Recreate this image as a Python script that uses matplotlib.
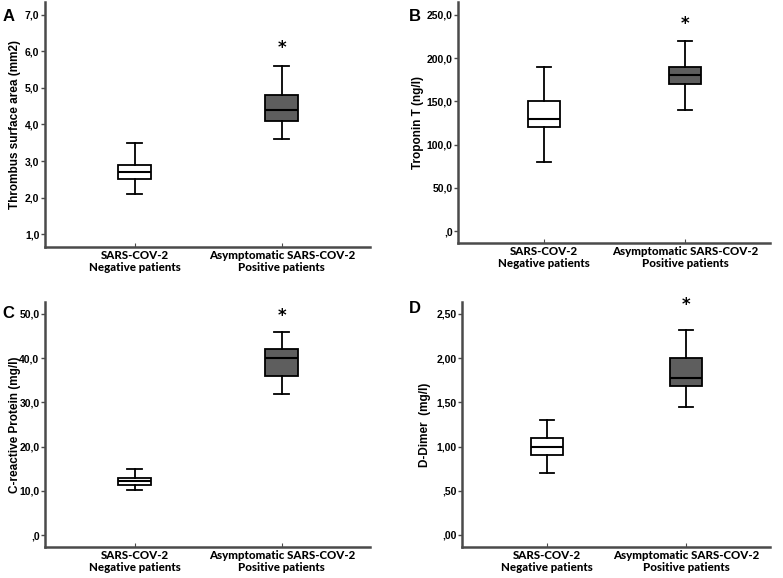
import matplotlib
matplotlib.use("Agg")
import matplotlib.pyplot as plt

# ---- data ----
groups = ["SARS-COV-2\nNegative patients", "Asymptomatic SARS-COV-2\nPositive patients"]

# per panel: [negative, positive] as (whislo, q1, median, q3, whishi)
thrombus = [(2.1, 2.5, 2.7, 2.9, 3.5), (3.6, 4.1, 4.4, 4.8, 5.6)]
troponin = [(80, 120, 130, 150, 190), (140, 170, 180, 190, 220)]
crp = [(10.3, 11.3, 12.3, 13.0, 15.0), (32, 36, 40, 42, 46)]
ddimer = [(0.70, 0.90, 1.00, 1.10, 1.30), (1.45, 1.68, 1.78, 2.00, 2.32)]

star_y = [6.1, 240, 49.5, 2.6]

ticks_a = [1, 2, 3, 4, 5, 6, 7]
ticklabels_a = ["1,0", "2,0", "3,0", "4,0", "5,0", "6,0", "7,0"]
ticks_b = [0, 50, 100, 150, 200, 250]
ticklabels_b = [",0", "50,0", "100,0", "150,0", "200,0", "250,0"]
ticks_c = [0, 10, 20, 30, 40, 50]
ticklabels_c = [",0", "10,0", "20,0", "30,0", "40,0", "50,0"]
ticks_d = [0, 0.5, 1.0, 1.5, 2.0, 2.5]
ticklabels_d = [",00", ",50", "1,00", "1,50", "2,00", "2,50"]

ylabels = ["Thrombus surface area (mm2)", "Troponin T (ng/l)",
           "C-reactive Protein (mg/l)", "D-Dimer  (mg/l)"]
letters = ["A", "B", "C", "D"]

SPINE = "#4a4a4a"
FILLS = ["white", "#5e5e5e"]


def to_stats(rows):
    keys = ("whislo", "q1", "med", "q3", "whishi")
    return [dict(zip(keys, r), fliers=[]) for r in rows]


def panel(fig, rect, rows, ylim, ticks, ticklabels, ylabel, star, letter,
          letter_xy, ylabel_x):
    ax = fig.add_axes(rect)
    bp = ax.bxp(to_stats(rows), positions=[1, 2], widths=0.225,
                patch_artist=True, showfliers=False,
                boxprops=dict(edgecolor="black", linewidth=1.3),
                medianprops=dict(color="black", linewidth=1.5),
                whiskerprops=dict(color="black", linewidth=1.3),
                capprops=dict(color="black", linewidth=1.3),
                capwidths=0.1)
    for patch, c in zip(bp["boxes"], FILLS):
        patch.set_facecolor(c)
    ax.set_xlim(0.39, 2.6)
    ax.set_ylim(*ylim)
    ax.set_yticks(ticks)
    ax.set_yticklabels(ticklabels, fontsize=7.5, fontweight="bold",
                       family="Liberation Sans")
    ax.set_xticks([1, 2])
    ax.set_xticklabels(groups, fontsize=8.3, fontweight=900, family="Lato",
                       linespacing=1.15)
    ax.tick_params(axis="y", length=3, width=1, color=SPINE, pad=1)
    ax.tick_params(axis="x", direction="in", length=3, width=0.8,
                   color=SPINE, pad=2)
    for s in ("top", "right"):
        ax.spines[s].set_visible(False)
    for s in ("left", "bottom"):
        ax.spines[s].set_color(SPINE)
        ax.spines[s].set_linewidth(1.8)
    ax.text(2, star, "*", ha="center", va="center", fontsize=12,
            fontweight="bold")
    fig.text(ylabel_x, rect[1] + rect[3] * 0.5, ylabel, rotation=90,
             ha="center", va="center", fontsize=8.5, fontweight="bold",
             family="Liberation Sans")
    fig.text(letter_xy[0], letter_xy[1], letter, ha="left", va="center",
             fontsize=12, fontweight="bold", family="Liberation Sans")
    return ax


fig = plt.figure(figsize=(7.83, 5.78), dpi=100)

panel(fig, [0.0575, 0.5727, 0.415, 0.424], thrombus, (0.65, 7.35),
      ticks_a, ticklabels_a, ylabels[0], star_y[0], letters[0],
      (0.003, 0.972), 0.019)
panel(fig, [0.585, 0.5796, 0.398, 0.417], troponin, (-13.8, 265),
      ticks_b, ticklabels_b, ylabels[1], star_y[1], letters[1],
      (0.522, 0.972), 0.534)
panel(fig, [0.0575, 0.0536, 0.415, 0.424], crp, (-2.7, 52.7),
      ticks_c, ticklabels_c, ylabels[2], star_y[2], letters[2],
      (0.003, 0.458), 0.019)
panel(fig, [0.590, 0.0536, 0.393, 0.424], ddimer, (-0.136, 2.636),
      ticks_d, ticklabels_d, ylabels[3], star_y[3], letters[3],
      (0.522, 0.467), 0.543)

fig.savefig("out.png", dpi=100)
